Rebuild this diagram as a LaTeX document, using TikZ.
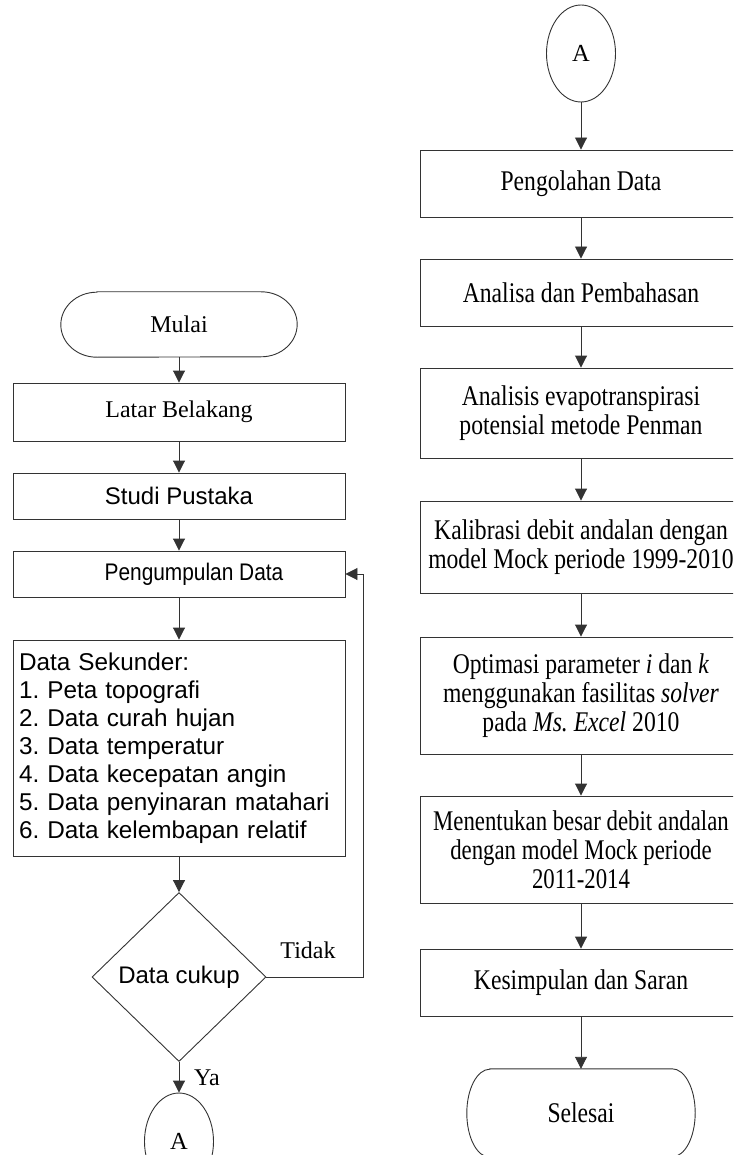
\documentclass[tikz,border=0pt]{standalone}
\usepackage{fontspec}
\setmainfont{Liberation Serif}
\newfontfamily\arialf{Liberation Sans}
\newfontfamily\arialn[FakeStretch=0.87]{Liberation Sans}
\newfontfamily\rserif[FakeStretch=0.83]{Liberation Serif}
\newfontfamily\rserifn[FakeStretch=0.8]{Liberation Serif}
\usetikzlibrary{shapes.geometric,arrows.meta}
\frenchspacing
\tikzset{
  ln/.style={draw=black!80, line width=0.9pt},
  arr/.style={ln, -{Triangle[width=12pt,length=12pt]}},
  sbox/.style={ln, rectangle, inner sep=0pt, align=center, font=\fontsize{24}{29}\selectfont},
  lbox/.style={sbox, minimum width=332pt},
  rbox/.style={sbox, minimum width=322pt, font=\rserif\fontsize{28.5}{29}\selectfont},
  term/.style={inner sep=0pt, font=\fontsize{24}{29}\selectfont},
  conn/.style={ln, ellipse, inner sep=0pt, minimum width=69pt, minimum height=97pt, font=\fontsize{24.5}{29}\selectfont},
  lbl/.style={inner sep=0pt, font=\fontsize{24}{29}\selectfont},
}
\begin{document}
\begin{tikzpicture}[x=1pt,y=1pt]
\useasboundingbox (0,0) rectangle (733,-1155);
\clip (0,0) rectangle (733,-1155);
% left column
\node[term, minimum width=236pt, minimum height=65pt] (mulai) at (179,-324.5) {Mulai};
\draw[ln] ([xshift=36pt]mulai.north west) -- ([xshift=-36pt]mulai.north east)
  arc[start angle=90,end angle=-90,x radius=36pt,y radius=32.5pt]
  -- ([xshift=36pt]mulai.south west)
  arc[start angle=270,end angle=90,x radius=36pt,y radius=32.5pt] -- cycle;
\node[lbox, minimum height=58pt] (latar) at (179,-412) {Latar Belakang};
\node[lbox, minimum height=46pt, font=\arialf\fontsize{24}{29}\selectfont] (studi) at (179,-496) {Studi Pustaka};
\node[lbox, minimum height=46pt, font=\arialn\fontsize{24}{29}\selectfont] (kumpul) at (179,-574) {\hspace*{30pt}Pengumpulan Data};
\node[lbox, minimum height=216pt, text width=320pt, inner xsep=6pt, align=left, font=\arialf\fontsize{24.3}{28}\selectfont] (sek) at (179,-748) {Data Sekunder:\\1. Peta topografi\\2. Data curah hujan\\3. Data temperatur\\4. Data kecepatan angin\\5. Data penyinaran matahari\\6. Data kelembapan relatif};
\node[ln, diamond, inner sep=0pt, minimum width=174pt, minimum height=169pt, font=\arialf\fontsize{24}{29}\selectfont] (cukup) at (179,-977) {Data cukup};
\node[conn] (aleft) at (179,-1141.5) {A};
\node[lbl] (tidak) at (308,-950) {Tidak};
\node[lbl] (ya) at (207,-1078) {Ya};
\coordinate (fb) at (363,-574);
\draw[arr] (mulai.south) -- (latar.north);
\draw[arr] (latar.south) -- (studi.north);
\draw[arr] (studi.south) -- (kumpul.north);
\draw[arr] (kumpul.south) -- (sek.north);
\draw[arr] (sek.south) -- (cukup.north);
\draw[arr] (cukup.south) -- (aleft.north);
\draw[arr] (cukup.east) -| (fb) -- (kumpul.east);
% right column
\node[conn] (aright) at (581,-53.5) {A};
\node[rbox, minimum height=67pt] (peng) at (581,-183.5) {Pengolahan Data};
\node[rbox, minimum height=67pt] (anal) at (581,-292.5) {Analisa dan Pembahasan};
\node[rbox, minimum height=90pt] (evap) at (581,-413) {Analisis evapotranspirasi\\potensial metode Penman};
\node[rbox, minimum height=92pt] (kal) at (581,-547) {Kalibrasi debit andalan dengan\\model Mock periode 1999-2010};
\node[rbox, minimum height=117pt] (opt) at (581,-695.5) {Optimasi parameter \textit{i} dan \textit{k}\\menggunakan fasilitas \textit{solver}\\pada \textit{Ms. Excel} 2010};
\node[rbox, minimum height=107pt, font=\rserifn\fontsize{28.5}{29}\selectfont] (men) at (581,-849.5) {Menentukan besar debit andalan\\dengan model Mock periode\\2011-2014};
\node[rbox, minimum height=67pt] (kes) at (581,-982.5) {Kesimpulan dan Saran};
\node[term, minimum width=228pt, minimum height=88pt, font=\rserif\fontsize{28.5}{29}\selectfont] (selesai) at (581,-1113) {Selesai};
\draw[ln] ([xshift=23pt]selesai.north west) -- ([xshift=-23pt]selesai.north east)
  arc[start angle=90,end angle=-90,x radius=23pt,y radius=44pt]
  -- ([xshift=23pt]selesai.south west)
  arc[start angle=270,end angle=90,x radius=23pt,y radius=44pt] -- cycle;
\draw[arr] (aright.south) -- (peng.north);
\draw[arr] (peng.south) -- (anal.north);
\draw[arr] (anal.south) -- (evap.north);
\draw[arr] (evap.south) -- (kal.north);
\draw[arr] (kal.south) -- (opt.north);
\draw[arr] (opt.south) -- (men.north);
\draw[arr] (men.south) -- (kes.north);
\draw[arr] (kes.south) -- (selesai.north);
\end{tikzpicture}
\end{document}
